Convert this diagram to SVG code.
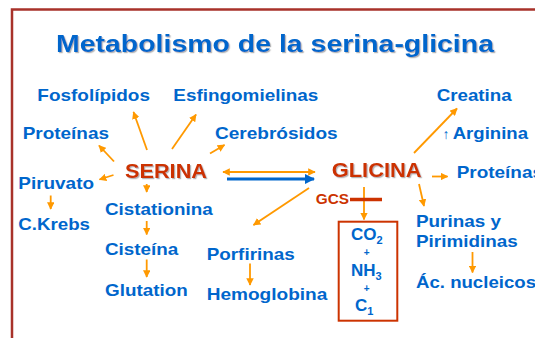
<svg xmlns="http://www.w3.org/2000/svg" width="535" height="338" viewBox="0 0 535 338">
<style>
  .t { font-family: "Liberation Sans", Arial, sans-serif; font-weight: bold; fill: #0066cc; font-size: 17px; }
  .title { font-size: 23.5px; filter: url(#sh); }
  .main { fill: #cc3300; font-size: 20px; filter: url(#sh); }
  .gcs { fill: #cc3300; font-size: 14px; }
  .sub { font-size: 11px; }
  .plus { font-size: 10px; }
  .arr { stroke: #ff9900; stroke-width: 1.8; fill: none; marker-end: url(#ah); }
</style>
<defs>
  <filter id="sh" x="-10%" y="-20%" width="120%" height="150%">
    <feDropShadow dx="1.2" dy="1.2" stdDeviation="0.6" flood-color="#777" flood-opacity="0.55"/>
  </filter>
  <marker id="ah" viewBox="0 0 10 10" refX="9" refY="5" markerWidth="4.2" markerHeight="4.2" orient="auto-start-reverse" markerUnits="strokeWidth">
    <path d="M0,0 L10,5 L0,10 Z" fill="#ff9900"/>
  </marker>
  <marker id="ahb" viewBox="0 0 10 10" refX="9" refY="5" markerWidth="3.5" markerHeight="3.5" orient="auto" markerUnits="strokeWidth">
    <path d="M0,0 L10,5 L0,10 Z" fill="#0066cc"/>
  </marker>
</defs>

<path d="M12,338 V9.5 H535" fill="none" stroke="#a8322a" stroke-width="2.5"/>

<text class="t title" x="56" y="51.5" textLength="438" lengthAdjust="spacingAndGlyphs">Metabolismo de la serina-glicina</text>

<g id="connectors">
  <line class="arr" x1="147" y1="150" x2="133.5" y2="112"/>
  <line class="arr" x1="172" y1="149" x2="196" y2="114.5"/>
  <line class="arr" x1="210" y1="153.5" x2="224.5" y2="145"/>
  <line class="arr" x1="114" y1="161.5" x2="99" y2="145.5"/>
  <line class="arr" x1="113.5" y1="175" x2="99.5" y2="179.5"/>
  <line class="arr" x1="146.7" y1="184" x2="146.7" y2="192"/>
  <line class="arr" x1="50.7" y1="195.5" x2="50.7" y2="209"/>
  <line class="arr" x1="146.7" y1="221" x2="146.7" y2="234.5"/>
  <line class="arr" x1="146.7" y1="259.5" x2="146.7" y2="277"/>
  <line class="arr" x1="250" y1="263.5" x2="250" y2="285"/>
  <line class="arr" x1="309" y1="188" x2="253.5" y2="225"/>
  <line class="arr" x1="223" y1="172" x2="315" y2="172" marker-start="url(#ah)"/>
  <line x1="227" y1="179" x2="314" y2="179" stroke="#0066cc" stroke-width="3" marker-end="url(#ahb)"/>
  <line class="arr" x1="414" y1="153" x2="457" y2="108.5"/>
  <line class="arr" x1="432" y1="176.5" x2="447.5" y2="176.5"/>
  <line class="arr" x1="419" y1="184" x2="424" y2="206"/>
  <line class="arr" x1="472.5" y1="252" x2="472.5" y2="272.5"/>
  <line class="arr" x1="364" y1="187" x2="364" y2="219.5"/>
  <line x1="350" y1="199.5" x2="382" y2="199.5" stroke="#cc3300" stroke-width="3.5"/>
</g>

<g id="serina"><text class="t main" x="125" y="177.5" textLength="82" lengthAdjust="spacingAndGlyphs">SERINA</text></g>
<g id="glicina"><text class="t main" x="331.7" y="177" textLength="90" lengthAdjust="spacingAndGlyphs">GLICINA</text></g>

<g id="fosfolipidos"><text class="t" x="37.3" y="101" textLength="112.7" lengthAdjust="spacingAndGlyphs">Fosfolípidos</text></g>
<g id="esfingomielinas"><text class="t" x="173.3" y="101" textLength="145" lengthAdjust="spacingAndGlyphs">Esfingomielinas</text></g>
<g id="creatina"><text class="t" x="436.7" y="101" textLength="75" lengthAdjust="spacingAndGlyphs">Creatina</text></g>
<g id="proteinas-l"><text class="t" x="22.7" y="139" textLength="86.3" lengthAdjust="spacingAndGlyphs">Proteínas</text></g>
<g id="cerebrosidos"><text class="t" x="215" y="138.5" textLength="122.7" lengthAdjust="spacingAndGlyphs">Cerebrósidos</text></g>
<g id="arginina"><text class="t" x="442.5" y="138.5"><tspan font-weight="normal" font-size="14">↑</tspan><tspan x="452.7" textLength="75.3" lengthAdjust="spacingAndGlyphs">Arginina</tspan></text></g>
<g id="proteinas-r"><text class="t" x="456.7" y="178" textLength="86.3" lengthAdjust="spacingAndGlyphs">Proteínas</text></g>
<g id="piruvato"><text class="t" x="18.3" y="189" textLength="75.7" lengthAdjust="spacingAndGlyphs">Piruvato</text></g>
<g id="ckrebs"><text class="t" x="18.3" y="229.5" textLength="71.7" lengthAdjust="spacingAndGlyphs">C.Krebs</text></g>
<g id="cistationina"><text class="t" x="105" y="214.5" textLength="107.7" lengthAdjust="spacingAndGlyphs">Cistationina</text></g>
<g id="cisteina"><text class="t" x="105" y="254.5" textLength="73.3" lengthAdjust="spacingAndGlyphs">Cisteína</text></g>
<g id="glutation"><text class="t" x="105" y="296" textLength="82.7" lengthAdjust="spacingAndGlyphs">Glutation</text></g>
<g id="porfirinas"><text class="t" x="206.7" y="259.5" textLength="88" lengthAdjust="spacingAndGlyphs">Porfirinas</text></g>
<g id="hemoglobina"><text class="t" x="206.7" y="299.5" textLength="120.6" lengthAdjust="spacingAndGlyphs">Hemoglobina</text></g>
<g id="purinas"><text class="t" x="416" y="227" textLength="85" lengthAdjust="spacingAndGlyphs">Purinas y</text><text class="t" x="416" y="246.5" textLength="101.7" lengthAdjust="spacingAndGlyphs">Pirimidinas</text></g>
<g id="acnucleicos"><text class="t" x="416" y="287.5" textLength="120" lengthAdjust="spacingAndGlyphs">Ác. nucleicos</text></g>
<g id="gcs"><text class="t gcs" x="315.7" y="204" textLength="33.3" lengthAdjust="spacingAndGlyphs">GCS</text></g>

<g id="productos">
  <rect x="338.7" y="221.7" width="58.6" height="99" fill="none" stroke="#cc3300" stroke-width="2"/>
  <text class="t" x="351" y="240" font-size="16">CO<tspan class="sub" dy="3.5">2</tspan></text>
  <text class="t plus" x="366.7" y="256" text-anchor="middle">+</text>
  <text class="t" x="351" y="275.7" font-size="16">NH<tspan class="sub" dy="4">3</tspan></text>
  <text class="t plus" x="366.7" y="291.5" text-anchor="middle">+</text>
  <text class="t" x="355" y="311" font-size="16">C<tspan class="sub" dy="3.5">1</tspan></text>
</g>
</svg>
